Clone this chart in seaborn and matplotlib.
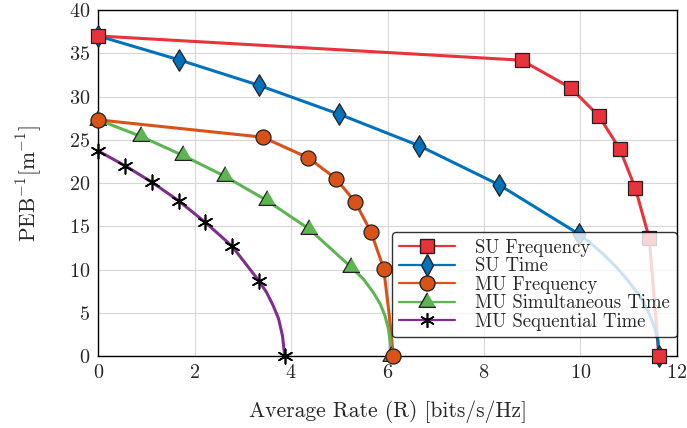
import matplotlib
matplotlib.use("Agg")
import matplotlib.pyplot as plt
from matplotlib.lines import Line2D
import pandas as pd
import seaborn as sns

# marker positions
su_freq_rate = [0.0, 8.78, 9.80, 10.39, 10.82, 11.14, 11.43, 11.63]
su_freq_peb = [37.0, 34.2, 31.0, 27.7, 23.9, 19.4, 13.6, 0.0]

su_time_rate = [0.0, 1.67, 3.33, 5.0, 6.66, 8.31, 9.97, 11.63]
su_time_peb = [37.0, 34.25, 31.3, 27.95, 24.3, 19.8, 14.1, 0.0]

mu_freq_rate = [0.0, 3.41, 4.36, 4.93, 5.33, 5.66, 5.92, 6.12]
mu_freq_peb = [27.3, 25.3, 22.9, 20.5, 17.8, 14.3, 10.1, 0.0]

mu_sim_rate = [0.0, 0.88, 1.75, 2.62, 3.49, 4.37, 5.24, 6.08]
mu_sim_peb = [27.3, 25.4, 23.2, 20.8, 18.0, 14.7, 10.3, 0.0]

mu_seq_rate = [0.0, 0.555, 1.11, 1.665, 2.22, 2.775, 3.33, 3.875]
mu_seq_peb = [23.7, 22.0, 20.1, 17.95, 15.45, 12.7, 8.7, 0.0]

# extra curve points read between the last markers (where the curves bend)
su_time_tail_rate = [10.20, 10.47, 10.75, 10.99, 11.23, 11.40, 11.54, 11.61]
su_time_tail_peb = [13.1, 11.8, 10.25, 8.7, 6.97, 5.24, 3.3, 1.77]
mu_freq_tail_rate = [6.03]
mu_freq_tail_peb = [5.0]
mu_sim_tail_rate = [5.50, 5.71, 5.85, 5.95, 6.02, 6.06]
mu_sim_tail_peb = [8.9, 7.3, 6.0, 4.6, 3.1, 1.5]
mu_seq_tail_rate = [3.49, 3.63, 3.74, 3.82, 3.86]
mu_seq_tail_peb = [7.36, 5.8, 4.3, 2.35, 0.4]

labels = ["SU Frequency", "SU Time", "MU Frequency",
          "MU Simultaneous Time", "MU Sequential Time"]
colors = ["#E8333A", "#0072BD", "#D95319", "#5DB552", "#7E2F8E"]

sns.set_style("whitegrid", {"axes.edgecolor": "black", "grid.color": "#d6d6d6",
                            "axes.linewidth": 1.0})
plt.rcParams["font.family"] = ["cmr10", "DejaVu Serif"]
plt.rcParams["mathtext.fontset"] = "cm"
plt.rcParams["axes.formatter.use_mathtext"] = True


def curve(rate, peb, tail_rate, tail_peb, name):
    # marker points plus tail points, inserted before the final point
    r = rate[:-1] + tail_rate + rate[-1:]
    p = peb[:-1] + tail_peb + peb[-1:]
    return pd.DataFrame({"rate": r, "peb": p, "series": name})


curves = pd.concat([
    curve(su_freq_rate, su_freq_peb, [], [], labels[0]),
    curve(su_time_rate, su_time_peb, su_time_tail_rate, su_time_tail_peb, labels[1]),
    curve(mu_freq_rate, mu_freq_peb, mu_freq_tail_rate, mu_freq_tail_peb, labels[2]),
    curve(mu_sim_rate, mu_sim_peb, mu_sim_tail_rate, mu_sim_tail_peb, labels[3]),
    curve(mu_seq_rate, mu_seq_peb, mu_seq_tail_rate, mu_seq_tail_peb, labels[4]),
])

fig = plt.figure(figsize=(6.87, 4.28), dpi=100)
ax = fig.add_axes([0.1431, 0.1682, 0.842, 0.8084])

sns.lineplot(data=curves, x="rate", y="peb", hue="series", hue_order=labels,
             palette=colors, sort=False, estimator=None, linewidth=2.2,
             legend=False, ax=ax)

tri = [(0, 1), (-0.866, -0.5), (0.866, -0.5)]
marker_specs = [
    # drawn in this order so red/orange end up on top
    (su_time_rate, su_time_peb, colors[1], "d", 120),
    (su_freq_rate, su_freq_peb, colors[0], "s", 106),
    (mu_sim_rate, mu_sim_peb, colors[3], tri, 200),
    (mu_freq_rate, mu_freq_peb, colors[2], "o", 117),
    (mu_seq_rate, mu_seq_peb, "black", (6, 2, 0), 110),
]
for xs, ys, c, m, s in marker_specs:
    if m == (6, 2, 0):
        ax.scatter(xs, ys, marker=m, s=s, color="black", linewidths=1.2,
                   zorder=3, clip_on=False)
    else:
        sns.scatterplot(x=xs, y=ys, marker=m, s=s, color=c, edgecolor="#222222",
                        linewidth=0.9, zorder=3, ax=ax, clip_on=False, legend=False)

ax.set_xlim(0, 12)
ax.set_ylim(0, 40)
ax.set_xticks(range(0, 13, 2))
ax.set_yticks(range(0, 41, 5))
ax.tick_params(axis="both", length=0, pad=6, labelsize=14.5)
ax.set_xlabel("Average Rate (R) [bits/s/Hz]", fontsize=15.5, labelpad=13)
ax.set_ylabel(r"PEB$^{-1}$[m$^{-1}$]", fontsize=15.5, labelpad=18)
for sp in ax.spines.values():
    sp.set_color("black")
    sp.set_linewidth(1.0)

handles = [
    Line2D([], [], color=colors[0], lw=1.6, marker="s", ms=10.3, mfc=colors[0], mec="#222222"),
    Line2D([], [], color=colors[1], lw=1.6, marker="d", ms=11, mfc=colors[1], mec="#222222"),
    Line2D([], [], color=colors[2], lw=1.6, marker="o", ms=10.8, mfc=colors[2], mec="#222222"),
    Line2D([], [], color=colors[3], lw=1.6, marker=tri, ms=14, mfc=colors[3], mec="#222222"),
    Line2D([], [], color=colors[4], lw=1.6, marker=(6, 2, 0), ms=10.5, mec="black", mew=1.2),
]
leg = ax.legend(handles, labels, loc="lower right", bbox_to_anchor=(1.0, 0.054),
                borderaxespad=0, fontsize=13.5, framealpha=0.8, edgecolor="black",
                fancybox=True, handlelength=3.0, labelspacing=0.03, borderpad=0.35,
                handletextpad=1.1)
leg.get_frame().set_linewidth(1.0)
leg.set_zorder(5)

fig.savefig("out.png", dpi=100)
